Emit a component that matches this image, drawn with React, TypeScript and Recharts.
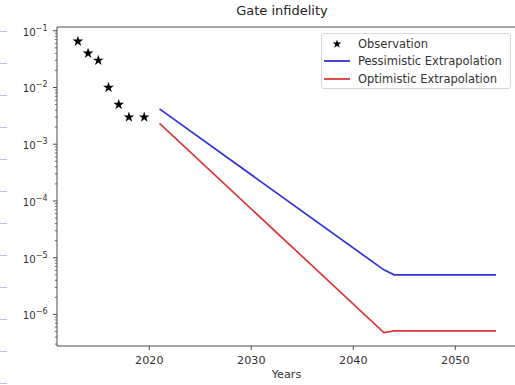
import React from "react";
import { ComposedChart, Line, Scatter, XAxis, YAxis, ReferenceLine, Symbols } from "recharts";

// observed gate infidelity
const obsYears = [2013, 2014, 2015, 2016, 2017, 2018, 2019.5];
const obsValues = [0.065, 0.04, 0.03, 0.01, 0.005, 0.003, 0.003];

// extrapolations
const extYears = [2021, 2043, 2044, 2054];
const pessimisticValues = [4.2e-3, 6.1e-6, 5e-6, 5e-6];
const optimisticValues = [2.32e-3, 4.8e-7, 5.15e-7, 5.15e-7];

const xTicks = [2020, 2030, 2040, 2050];
const yMajorExps = [-1, -2, -3, -4, -5, -6];

const X_DOMAIN = [2010.95, 2056.05];
const Y_MIN = Math.pow(10, -6.556);
const Y_MAX = Math.pow(10, -0.934);

const FONT = "'DejaVu Sans', sans-serif";
const BLUE = "#3030dc";
const RED = "#dc3838";
const SPINE = "#4a4a4a";

const obsData = obsYears.map((x, i) => ({ x, y: obsValues[i] }));
const pessData = extYears.map((x, i) => ({ x, y: pessimisticValues[i] }));
const optData = extYears.map((x, i) => ({ x, y: optimisticValues[i] }));

// majors plus 2..9 minors inside the y range
const yTicks: number[] = [];
for (let e = -7; e <= -1; e++) {
  for (let m = 1; m <= 9; m++) {
    const v = m * Math.pow(10, e);
    if (v >= Y_MIN && v <= Y_MAX) yTicks.push(v);
  }
}

function YTick(props: any) {
  const { x, y, payload } = props;
  const lg = Math.log10(payload.value);
  const e = Math.round(lg);
  const major = Math.abs(lg - e) < 1e-6 && yMajorExps.includes(e);
  if (!major) {
    return <line x1={x - 2.2} x2={x} y1={y} y2={y} stroke={SPINE} strokeWidth={0.8} />;
  }
  return (
    <g>
      <line x1={x - 4} x2={x} y1={y} y2={y} stroke={SPINE} strokeWidth={1} />
      <text x={x - 9.5} y={y + 5} textAnchor="end" fontFamily={FONT} fill="#333">
        <tspan fontSize={10.2}>10</tspan>
        <tspan fontSize={8} dy={-5}>{"\u2212" + Math.abs(e)}</tspan>
      </text>
    </g>
  );
}

function XTick(props: any) {
  const { x, y, payload } = props;
  return (
    <g>
      <line x1={x} x2={x} y1={y} y2={y + 4} stroke={SPINE} strokeWidth={1} />
      <text x={x} y={y + 18} textAnchor="middle" fontFamily={FONT} fontSize={11.2} fill="#333">
        {payload.value}
      </text>
    </g>
  );
}

function Star(props: any) {
  return <Symbols cx={props.cx} cy={props.cy} type="star" size={36} fill="#000" />;
}

function LegendBox() {
  const rows = [
    { label: "Observation", kind: "star", color: "#000" },
    { label: "Pessimistic Extrapolation", kind: "line", color: BLUE },
    { label: "Optimistic Extrapolation", kind: "line", color: RED },
  ];
  return (
    <div
      style={{
        position: "absolute",
        left: 321,
        top: 33,
        width: 188,
        height: 54,
        border: "1px solid #d8d8d8",
        borderRadius: 3,
        background: "rgba(255,255,255,0.85)",
        fontFamily: FONT,
        fontSize: 11.5,
        color: "#333",
      }}
    >
      {rows.map((r, i) => (
        <div key={r.label} style={{ position: "absolute", left: 0, top: 2 + i * 17.3, height: 17, width: 188 }}>
          <svg width={30} height={17} style={{ position: "absolute", left: 1, top: 0 }}>
            {r.kind === "star" ? (
              <Symbols cx={14} cy={8} type="star" size={24} fill="#000" />
            ) : (
              <line x1={1} x2={27} y1={8} y2={8} stroke={r.color} strokeWidth={1.8} />
            )}
          </svg>
          <span style={{ position: "absolute", left: 36, top: 1, whiteSpace: "nowrap" }}>{r.label}</span>
        </div>
      ))}
    </div>
  );
}

export default function App() {
  return (
    <div
      style={{
        position: "absolute",
        left: 0,
        top: 0,
        width: 515,
        height: 385,
        overflow: "hidden",
        background: "#fff",
      }}
    >
      {Array.from({ length: 12 }).map((_, i) => (
        <div
          key={i}
          style={{ position: "absolute", left: 0, top: 30.5 + i * 32, width: 7, height: 1.5, background: "#bcc3f2" }}
        />
      ))}
      <div
        style={{
          position: "absolute",
          left: 0,
          width: 564,
          top: 3,
          textAlign: "center",
          fontFamily: FONT,
          fontSize: 13,
          color: "#222",
        }}
      >
        Gate infidelity
      </div>
      <ComposedChart width={530} height={385} margin={{ top: 27, right: 13, bottom: 0, left: 0 }}>
        <XAxis
          dataKey="x"
          type="number"
          domain={X_DOMAIN}
          allowDataOverflow
          ticks={xTicks}
          interval={0}
          height={39}
          tickSize={0}
          tickMargin={0}
          tickLine={false}
          axisLine={{ stroke: SPINE, strokeWidth: 1 }}
          tick={<XTick />}
        />
        <YAxis
          dataKey="y"
          type="number"
          scale="log"
          domain={[Y_MIN, Y_MAX]}
          allowDataOverflow
          ticks={yTicks}
          interval={0}
          width={57}
          tickSize={0}
          tickMargin={0}
          tickLine={false}
          axisLine={{ stroke: SPINE, strokeWidth: 1 }}
          tick={<YTick />}
        />
        <ReferenceLine y={Y_MAX} stroke={SPINE} strokeWidth={1} ifOverflow="extendDomain" />
        <Scatter data={obsData} dataKey="y" shape={<Star />} isAnimationActive={false} />
        <Line data={pessData} dataKey="y" type="linear" stroke={BLUE} strokeWidth={1.7} dot={false} isAnimationActive={false} />
        <Line data={optData} dataKey="y" type="linear" stroke={RED} strokeWidth={1.7} dot={false} isAnimationActive={false} />
      </ComposedChart>
      <div
        style={{
          position: "absolute",
          left: 0,
          width: 573,
          top: 368,
          textAlign: "center",
          fontFamily: FONT,
          fontSize: 11.2,
          color: "#333",
        }}
      >
        Years
      </div>
      <LegendBox />
    </div>
  );
}
